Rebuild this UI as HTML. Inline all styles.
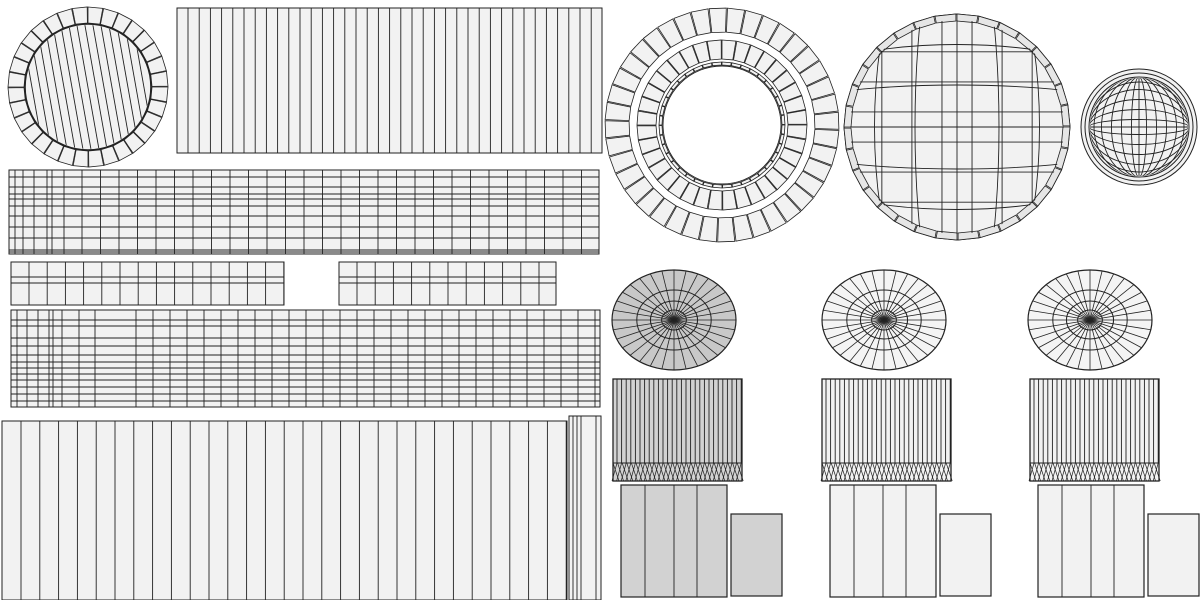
<!DOCTYPE html>
<html><head><meta charset="utf-8"><style>
html,body{margin:0;padding:0;background:#fff;width:1200px;height:600px;overflow:hidden}
svg{display:block}
</style></head><body>
<svg id="s" width="1200" height="600" viewBox="0 0 1200 600" xmlns="http://www.w3.org/2000/svg">
<g id="g" stroke="#222" stroke-width="0.9" fill="#f2f2f2"></g>
</svg>
<script>
var g=document.getElementById('g'),out='';
function A(s){out+=s;}
function rect(x,y,w,h,f,sw){A('<rect x="'+x+'" y="'+y+'" width="'+w+'" height="'+h+'" fill="'+(f||'#f2f2f2')+'" stroke-width="'+(sw||1)+'"/>');}
function ln(x1,y1,x2,y2,sw,c){A('<line x1="'+x1+'" y1="'+y1+'" x2="'+x2+'" y2="'+y2+'"'+(sw?' stroke-width="'+sw+'"':'')+(c?' stroke="'+c+'"':'')+'/>');}
function vl(x,y,w,h,xs){xs.forEach(function(t){ln(x+t,y,x+t,y+h);});}
function hl(x,y,w,h,ys){ys.forEach(function(t){ln(x,y+t,x+w,y+t);});}
function circ(cx,cy,r,f,sw){A('<circle cx="'+cx+'" cy="'+cy+'" r="'+r+'" fill="'+(f||'none')+'" stroke-width="'+(sw||0.9)+'"/>');}
function ell(cx,cy,rx,ry,f,sw){A('<ellipse cx="'+cx+'" cy="'+cy+'" rx="'+rx+'" ry="'+ry+'" fill="'+(f||'none')+'" stroke-width="'+(sw||0.9)+'"/>');}
function ring(cx,cy,r1,r2,n,f,off){
  for(var i=0;i<n;i++){var a=(i+(off||0))/n*2*Math.PI,b=(i+1+(off||0))/n*2*Math.PI-0.01;
   var p=[[r2,a],[r2,b],[r1,b],[r1,a]].map(function(q){return (cx+q[0]*Math.cos(q[1])).toFixed(1)+','+(cy+q[0]*Math.sin(q[1])).toFixed(1);});
   A('<polygon points="'+p.join(' ')+'" fill="'+(f||'#f2f2f2')+'" stroke-width="0.8"/>');}
}
function range(a,b,st){var r=[];for(var t=a;t<b;t+=st)r.push(t);return r;}
// top-left ring
ring(88,87,64,80,32);
circ(88,87,63,'#f2f2f2',1.6);
A('<clipPath id="c1"><circle cx="88" cy="87" r="62"/></clipPath><g clip-path="url(#c1)">');
for(var i=-80;i<90;i+=8){ln(88+i-12,20,88+i+12,155,0.9);}
A('</g>');
// top rect
rect(177,8,425,145);
vl(177,8,425,145,range(11,425,11.2));
// grid 1
rect(9,170,590,84);
vl(9,170,590,84,[6,14,25,38,43,55].concat(range(73,590,18.5)));
hl(9,170,590,84,[7,17,24,29,36,46,57,68,80,82]);
// strips
rect(11,262,273,43);rect(339,262,217,43);
vl(11,262,273,43,range(18,273,18.2));vl(339,262,217,43,range(18,217,18.2));
hl(11,262,273,43,[15,21]);hl(339,262,217,43,[15,21]);
// grid 2
rect(11,310,589,97);
vl(11,310,589,97,[6,16,27,38,42,51,68,84,125,142].concat(range(159,589,17)));
hl(11,310,589,97,[10,16,28,36,45,52,58,64,70,77,84,91]);
// big rect
rect(2,421,565,179);
vl(2,421,565,179,range(19,565,18.8));
rect(569,416,32,184);vl(569,416,32,184,[4,8,12,27]);
// big ring
ring(722,125,93,117,40,'#f2f2f2',0.3);
ring(722,125,66,85,36,'#f2f2f2');
ring(722,125,60,63,40,'#f2f2f2');
circ(722,125,59,'#fff',0.9);
// sphere
A('<polygon points="'+range(0,32,1).map(function(i){var a=i/32*2*Math.PI;return (957+113*Math.cos(a)).toFixed(1)+','+(127+113*Math.sin(a)).toFixed(1);}).join(' ')+'" fill="#f2f2f2" stroke-width="1"/>');
ring(957,127,106,113,32,'#e6e6e6');
A('<clipPath id="c2"><circle cx="957" cy="127" r="107"/></clipPath><g clip-path="url(#c2)">');
[0.28,0.55,0.82].forEach(function(k){
 A('<ellipse cx="957" cy="127" rx="'+(k*150).toFixed(1)+'" ry="220" fill="none"/>');
 A('<ellipse cx="957" cy="127" rx="220" ry="'+(k*150).toFixed(1)+'" fill="none"/>');});
[-1,1].forEach(function(s){[0.14,0.42,0.7].forEach(function(k){
 ln(957+s*k*113*0.95,10,957+s*k*113*0.95,245);ln(840,127+s*k*113*0.95,1075,127+s*k*113*0.95);});});
ln(957,10,957,240);ln(840,127,1075,127);
A('</g>');
// small sphere
circ(1139,127,58,'#f2f2f2',1);circ(1139,127,54,'none',1);circ(1139,127,50,'none',1);
A('<clipPath id="c3"><circle cx="1139" cy="127" r="49"/></clipPath><g clip-path="url(#c3)">');
[0.15,0.35,0.55,0.75,0.9].forEach(function(k){
 A('<ellipse cx="1139" cy="127" rx="'+(k*50).toFixed(1)+'" ry="50" fill="none"/>');
 A('<ellipse cx="1139" cy="127" rx="50" ry="'+(k*50).toFixed(1)+'" fill="none"/>');});
ln(1139,70,1139,185);ln(1085,127,1195,127);A('</g>');
// disks + cylinders
function unit(ox,cx,fill,fill2){
 ell(cx,320,62,50,fill,1.2);
 [0.2,0.38,0.6].forEach(function(k){ell(cx,320,62*k,50*k,'none',1);});
 for(var i=0;i<32;i++){var a=i/32*2*Math.PI;ln(cx,320,cx+62*Math.cos(a),320+50*Math.sin(a),0.8);}
 rect(ox,379,129,102,fill2,1.3);
 vl(ox,379,129,84,range(4,129,4.6));
 ln(ox,463,ox+129,463);
 for(var j=0;j<28;j++){var x=ox+j*4.6;ln(x,463,x+6,481,0.7);ln(x+4,463,x-1,481,0.7);}
 rect(ox+8,485,106,112,fill2,1.2);
 vl(ox+8,485,106,112,[24,53,76]);
 rect(ox+118,514,51,82,fill2,1.2);
}
unit(613,674,'#c8c8c8','#d2d2d2');
unit(822,884,'#f4f4f4','#f2f2f2');
unit(1030,1090,'#f4f4f4','#f2f2f2');
g.innerHTML=out;
</script>
</body></html>
